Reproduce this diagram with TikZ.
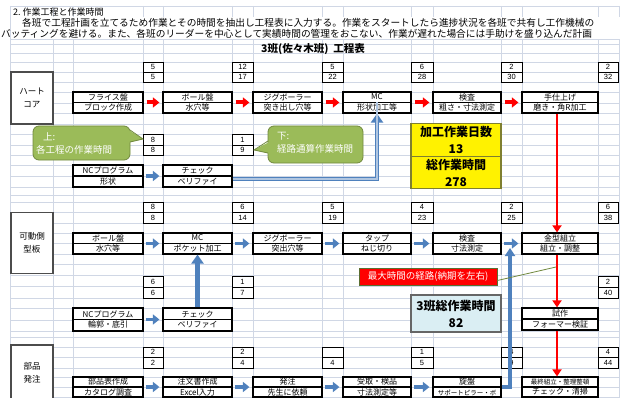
\documentclass[tikz,border=0pt]{standalone}
\usepackage{fontspec}
\setmainfont{Noto Sans CJK JP}
\newfontfamily\numfont{Liberation Sans}
\usetikzlibrary{arrows.meta}
\definecolor{gridc}{HTML}{D0D7E5}
\definecolor{arrblue}{HTML}{4F81BD}
\definecolor{arrred}{HTML}{FF0000}
\definecolor{callg}{HTML}{9BBB59}
\definecolor{callgb}{HTML}{71893F}
\definecolor{lightb}{HTML}{DAEEF3}
\definecolor{yborder}{HTML}{7F7F30}
\tikzset{
  gridline/.style={draw=gridc, line width=0.5pt},
  pbox/.style={draw=black, fill=white, line width=1.2pt, inner sep=0pt, align=center, font=\fontsize{8}{10.5}\selectfont},
  pmid/.style={draw=black, line width=1.2pt},
  nbox/.style={draw=black, fill=white, line width=0.6pt, inner sep=0pt, font=\numfont\fontsize{7.5}{7.5}\selectfont},
  redarr/.style={draw=arrred, line width=4pt, -{Triangle[width=10pt,length=6.5pt]}, shorten <=3pt, shorten >=3pt},
  bluearr/.style={draw=arrblue, line width=3.5pt, -{Triangle[width=10pt,length=6.5pt]}, shorten <=2pt, shorten >=3pt},
  redline/.style={draw=arrred, line width=2.8pt, -{Triangle[width=9pt,length=7pt]}},
  bluebig/.style={draw=arrblue, line width=4.5pt, -{Triangle[width=12pt,length=9pt]}},
  bluecore/.style={draw=arrblue!45!white, line width=1.3pt},
  lbl/.style={draw=black!70, fill=white, line width=1.6pt, inner sep=0pt, align=center, minimum width=42pt, font=\fontsize{8.5}{13}\selectfont},
  callbox/.style={draw=callgb, fill=callg, line width=0.8pt, rounded corners=6pt, inner sep=0pt},
  calltext/.style={anchor=west, inner sep=0pt, text=white, font=\fontsize{9.5}{9.5}\selectfont},
  ybox/.style={draw=yborder, fill=yellow, line width=1.3pt, inner sep=0pt, align=center, minimum width=90pt, font=\bfseries\fontsize{12}{17}\selectfont},
  tbox/.style={draw=black!60, fill=lightb, line width=1.6pt, inner sep=0pt, align=center, font=\bfseries\fontsize{12}{17}\selectfont},
  redcall/.style={draw=callgb!80!black, fill=arrred, line width=0.8pt, inner sep=0pt, text=white, font=\fontsize{9.5}{9.5}\selectfont},
}
\newcommand\PB[7]{%
  \node[pbox, minimum width={(#3-#2)*1pt}, minimum height={(#5-#4)*1pt}] (#1) at ({(#2+#3)/2},{(#4+#5)/2}) {#6\\#7};
  \draw[pmid] (#1.west) -- (#1.east);}
\newcommand\NB[8]{%
  \node[nbox, minimum width={(#3-#2)*1pt}, minimum height={(#5-#4)*1pt}] (#1t) at ({(#2+#3)/2},{(#4+#5)/2}) {#7};
  \node[nbox, minimum width={(#3-#2)*1pt}, minimum height={(#6-#5)*1pt}] (#1b) at ({(#2+#3)/2},{(#5+#6)/2}) {#8};}
\begin{document}
\begin{tikzpicture}[x=1pt,y=-1pt]
\useasboundingbox (0,0) rectangle (620,398);
\fill[white] (0,0) rectangle (620,398);
% spreadsheet grid
\foreach \yy in {6,17,39,44,53,62,72,82,92,103,113,124,134,145,155,165,176,187,195,202,212,223,233,243,254,264,275,286,298,308,320,331,337,347,357,368,377,387,397}
  \draw[gridline] (10,\yy) -- (620,\yy);
\foreach \xx in {10,53,73,143,163,232,253,322,343,411,433,501,522,598,619}
  \draw[gridline] (\xx,6) -- (\xx,398);
\fill[white] (10.5,17.4) rectangle (620,38.6);
% heading texts
\node[anchor=west, inner sep=0pt, font=\fontsize{9}{9}\selectfont] (t1) at (13,12) {2.\ 作業工程と作業時間};
\node[anchor=west, inner sep=0pt, font=\fontsize{9.7}{9.7}\selectfont] (t2) at (22,23) {各班で工程計画を立てるため作業とその時間を抽出し工程表に入力する。作業をスタートしたら進捗状況を各班で共有し工作機械の};
\node[anchor=west, inner sep=0pt, font=\fontsize{9.7}{9.7}\selectfont] (t3) at (1,33.5) {バッティングを避ける。また、各班のリーダーを中心として実績時間の管理をおこない、作業が遅れた場合には手助けを盛り込んだ計画};
\node[inner sep=0pt, font=\bfseries\fontsize{10.5}{10.5}\selectfont] (title) at (313,49) {3班(佐々木班)\ \ 工程表};
% group labels
\node[lbl, minimum height=52pt] (L1) at (32,98) {ハート\\コア};
\node[lbl, minimum height=61pt] (L2) at (32,243) {可動側\\型板};
\node[lbl, minimum height=56pt] (L3) at (32,373) {部品\\発注};
% row 1
\NB{n11}{143}{163}{62}{72}{82}{5}{5}
\NB{n12}{232}{253}{62}{72}{82}{12}{17}
\NB{n13}{322}{343}{62}{72}{82}{5}{22}
\NB{n14}{411}{433}{62}{72}{82}{6}{28}
\NB{n15}{501}{522}{62}{72}{82}{2}{30}
\NB{n16}{598}{618}{62}{72}{82}{2}{32}
\PB{a1}{73}{143}{92}{113}{フライス盤}{ブロック作成}
\PB{b1}{163}{232}{92}{113}{ボール盤}{水穴等}
\PB{c1}{253}{322}{92}{113}{ジグボーラー}{突き出し穴等}
\PB{d1}{343}{411}{92}{113}{MC}{形状加工等}
\PB{e1}{433}{501}{92}{113}{検査}{粗さ・寸法測定}
\PB{f1}{522}{598}{92}{113}{手仕上げ}{磨き・角R加工}
% NC row 1
\NB{n1n1}{143}{163}{134}{145}{155}{8}{8}
\NB{n1n2}{232}{253}{134}{145}{155}{1}{9}
\PB{a1n}{73}{143}{165}{187}{NCプログラム}{形状}
\PB{b1n}{163}{232}{165}{187}{チェック}{ベリファイ}
% row 2
\NB{n21}{143}{163}{202}{212}{223}{8}{8}
\NB{n22}{232}{253}{202}{212}{223}{6}{14}
\NB{n23}{322}{343}{202}{212}{223}{5}{19}
\NB{n24}{411}{433}{202}{212}{223}{4}{23}
\NB{n25}{501}{522}{202}{212}{223}{2}{25}
\NB{n26}{598}{618}{202}{212}{223}{6}{38}
\PB{a2}{73}{143}{233}{254}{ボール盤}{水穴等}
\PB{b2}{163}{232}{233}{254}{MC}{ポケット加工}
\PB{c2}{253}{322}{233}{254}{ジグボーラー}{突出穴等}
\PB{d2}{343}{411}{233}{254}{タップ}{ねじ切り}
\PB{e2}{433}{501}{233}{254}{検査}{寸法測定}
\PB{f2}{522}{598}{233}{254}{金型組立}{組立・調整}
% NC row 2
\NB{n2n1}{143}{163}{276}{287}{298}{6}{6}
\NB{n2n2}{232}{253}{276}{287}{298}{1}{7}
\NB{n2n6}{598}{618}{276}{287}{298}{2}{40}
\PB{a2n}{73}{143}{308}{331}{NCプログラム}{輪郭・底引}
\PB{b2n}{163}{232}{308}{331}{チェック}{ベリファイ}
\PB{f2n}{522}{598}{308}{330}{試作}{フォーマー検証}
% row 3
\NB{n31}{143}{163}{347}{357}{368}{2}{2}
\NB{n32}{232}{253}{347}{357}{368}{2}{4}
\NB{n33}{322}{343}{347}{357}{368}{}{4}
\NB{n34}{411}{433}{347}{357}{368}{1}{5}
\NB{n35}{501}{522}{347}{357}{368}{4}{9}
\NB{n36}{598}{618}{347}{357}{368}{4}{44}
\PB{a3}{73}{143}{377}{397}{部品表作成}{カタログ調査}
\PB{b3}{163}{232}{377}{397}{注文書作成}{Excel入力}
\PB{c3}{253}{322}{377}{397}{発注}{先生に依頼}
\PB{d3}{343}{411}{377}{397}{受取・検品}{寸法測定等}
\PB{e3}{433}{501}{377}{397}{旋盤}{{\fontsize{6.5}{6.5}\selectfont サポートピラー・ボ}}
\PB{f3}{522}{598}{377}{397}{{\fontsize{6.5}{6.5}\selectfont 最終組立・整理整頓}}{チェック・清掃}
% horizontal arrows
\draw[redarr] (a1.east) -- (b1.west);
\draw[redarr] (b1.east) -- (c1.west);
\draw[redarr] (c1.east) -- (d1.west);
\draw[redarr] (d1.east) -- (e1.west);
\draw[redarr] (e1.east) -- (f1.west);
\draw[bluearr] (a1n.east) -- (b1n.west);
\draw[bluearr] (a2.east) -- (b2.west);
\draw[bluearr] (b2.east) -- (c2.west);
\draw[bluearr] (c2.east) -- (d2.west);
\draw[bluearr] (d2.east) -- (e2.west);
\draw[bluearr] (e2.east) -- (f2.west);
\draw[bluearr] (a2n.east) -- (b2n.west);
\draw[bluearr] (a3.east) -- (b3.west);
\draw[bluearr] (b3.east) -- (c3.west);
\draw[bluearr] (c3.east) -- (d3.west);
\draw[bluearr] (d3.east) -- (e3.west);
% vertical / elbow connectors
\coordinate (k1) at ([yshift=-3pt]b1n.east);
\draw[bluebig] (k1) -| (d1.south);
\draw[bluecore] (k1) -| ([yshift=12pt]d1.south);
\draw[bluebig] (b2n.north) -- (b2.south);
\coordinate (j1) at (510,248);
\draw[bluebig, line width=3.5pt, -{Triangle[width=10pt,length=8pt]}] (e3.east) -| (j1);
\draw[redline] ([xshift=-3pt]f1.south) -- ([xshift=-3pt]f2.north);
\draw[redline] ([xshift=-3pt]f2.south) -- ([xshift=-3pt]f2n.north);
\draw[redline] ([xshift=-3pt]f2n.south) -- ([xshift=-3pt]f3.north);
% callouts
\node[callbox, minimum width=97pt, minimum height=34pt] (co1) at (81.5,143) {};
\fill[callg] (127,129) -- (143,139) -- (127,143) -- cycle;
\draw[callgb, line width=0.8pt] (130,130) -- (143,139) -- (130,142);
\node[calltext] (co1a) at (43,137) {上:};
\node[calltext] (co1b) at (36,150) {各工程の作業時間};
\node[callbox, minimum width=95pt, minimum height=37pt] (co2) at (315.5,144.5) {};
\fill[callg] (271,141) -- (254,150) -- (271,154) -- cycle;
\draw[callgb, line width=0.8pt] (268,141) -- (254,150) -- (268,153);
\node[calltext] (co2a) at (277,136) {下:};
\node[calltext] (co2b) at (277,149) {経路通算作業時間};
% summary boxes
\node[ybox, minimum height=33pt] (y1) at (456,140) {加工作業日数\\13};
\node[ybox, minimum height=32pt] (y2) at (456,172.5) {総作業時間\\278};
\node[tbox, minimum width=90pt, minimum height=37pt] (tot) at (456,313.5) {3班総作業時間\\82};
\node[redcall, minimum width=138pt, minimum height=17pt] (rc) at (428,276.5) {最大時間の経路(納期を左右)};
\coordinate (rcp) at (556,267);
\draw[callgb, line width=0.8pt] ([yshift=-4pt]rc.east) -- (rcp);
\end{tikzpicture}
\end{document}
